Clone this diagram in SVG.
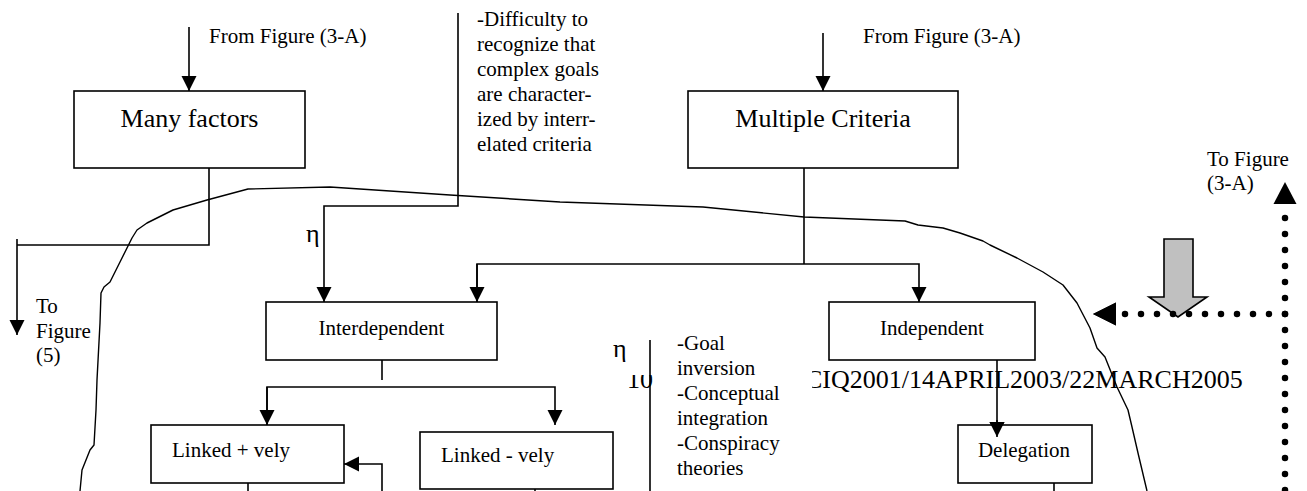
<svg xmlns="http://www.w3.org/2000/svg" width="1307" height="491" viewBox="0 0 1307 491">
<style>
text{font-family:"Liberation Serif","Times New Roman",serif;fill:#000}
.s21{font-size:21px}
.s26{font-size:26px}
.box{fill:#fff;stroke:#000;stroke-width:1.6}
.ln{fill:none;stroke:#000;stroke-width:1.6}
.dot{fill:none;stroke:#000;stroke-width:6.5;stroke-linecap:round;stroke-dasharray:0 16}
.curve{fill:none;stroke:#000;stroke-width:1.4;stroke-linejoin:round}
</style>
<defs>
<marker id="ah" markerUnits="userSpaceOnUse" markerWidth="16" markerHeight="16" refX="15" refY="7.5" orient="auto">
<path d="M0,0 L15,7.5 L0,15 z" fill="#000"/>
</marker>
<marker id="ahb" markerUnits="userSpaceOnUse" markerWidth="24" markerHeight="24" refX="23" refY="11.5" orient="auto">
<path d="M0,0 L23,11.5 L0,23 z" fill="#000"/>
</marker>
<clipPath id="c10"><rect x="600" y="375" width="80" height="40"/></clipPath>
<clipPath id="cciq"><rect x="812" y="360" width="460" height="40"/></clipPath>
</defs>
<rect width="1307" height="491" fill="#fff"/>

<g id="footer">
<text class="s26" x="627" y="388" clip-path="url(#c10)">10</text>
<text class="s26" x="805" y="388" clip-path="url(#cciq)">CIQ2001/14APRIL2003/22MARCH2005</text>
</g>

<g id="boundary">
<path class="curve" d="M80,491 L82,470 L90,450 L94,445 L96,410 L97,380 L100,323 L101,293 L104,287 L110,282 L120,262 L132,238 L137,230 L147,223 L157,218 L173,210 L207,200 L248,189 L330,187 L450,195 L560,202 L703,207 L804,217 L905,221 L918,225 L943,228 L960,233 L983,241 L990,245 L1017,258 L1043,272 L1063,285 L1077,303 L1090,328 L1097,348 L1105,357 L1117,387 L1128,410 L1132,427 L1138,453 L1147,491"/>
</g>

<g id="gray-arrow">
<path d="M1164,239 L1193,239 L1193,297 L1207,297 L1178,317 L1149,297 L1164,297 z" fill="#c0c0c0" stroke="#000" stroke-width="1.6"/>
</g>

<g id="connectors">
<line class="ln" x1="189" y1="27" x2="189" y2="91" marker-end="url(#ah)"/>
<line class="ln" x1="823" y1="33" x2="823" y2="91" marker-end="url(#ah)"/>
<polyline class="ln" points="209,168 209,245 17,245"/>
<line class="ln" x1="17" y1="239" x2="17" y2="335" marker-end="url(#ah)"/>
<polyline class="ln" points="458,13 458,206 324,206 324,302" marker-end="url(#ah)"/>
<line class="ln" x1="804" y1="168" x2="804" y2="264"/>
<polyline class="ln" points="477,302 477,264 919,264 919,302" marker-end="url(#ah)"/>
<line class="ln" x1="477" y1="264" x2="477" y2="302" marker-end="url(#ah)"/>
<line class="ln" x1="382" y1="360" x2="382" y2="380"/>
<polyline class="ln" points="267,425 267,387 555,387 555,425" marker-end="url(#ah)"/>
<line class="ln" x1="267" y1="387" x2="267" y2="425" marker-end="url(#ah)"/>
<polyline class="ln" points="382,491 382,464 344,464" marker-end="url(#ah)"/>
<line class="ln" x1="248" y1="483" x2="248" y2="491"/>
<line class="ln" x1="535" y1="489" x2="535" y2="491"/>
<line class="ln" x1="997" y1="360" x2="997" y2="437" marker-end="url(#ah)"/>
<line class="ln" x1="1054" y1="483" x2="1054" y2="491"/>
<line class="ln" x1="650" y1="340" x2="650" y2="491"/>
<line class="dot" x1="1285" y1="218" x2="1285" y2="491"/>
<line class="dot" x1="1285" y1="314" x2="1120" y2="314"/>
<line x1="1116" y1="314" x2="1093" y2="314" stroke="none" marker-end="url(#ahb)"/>
<path d="M1093,314 L1116,302.5 L1116,325.5 z" fill="#000"/>
<path d="M1285,182 L1273.5,204 L1296.5,204 z" fill="#000"/>
</g>

<g id="node-many-factors">
<rect class="box" x="74" y="91" width="231" height="77"/>
<text class="s26" x="189.5" y="127" text-anchor="middle">Many factors</text>
</g>
<g id="node-multiple-criteria">
<rect class="box" x="688" y="91" width="270" height="77"/>
<text class="s26" x="823" y="127" text-anchor="middle">Multiple Criteria</text>
</g>
<g id="node-interdependent">
<rect class="box" x="266" y="302" width="231" height="58"/>
<text class="s21" x="381.5" y="335" text-anchor="middle">Interdependent</text>
</g>
<g id="node-independent">
<rect class="box" x="829" y="302" width="206" height="58"/>
<text class="s21" x="932" y="335" text-anchor="middle">Independent</text>
</g>
<g id="node-linked-pos">
<rect class="box" x="151" y="425" width="193" height="58"/>
<text class="s21" x="172" y="457">Linked + vely</text>
</g>
<g id="node-linked-neg">
<rect class="box" x="420" y="432" width="193" height="57"/>
<text class="s21" x="441" y="462">Linked - vely</text>
</g>
<g id="node-delegation">
<rect class="box" x="958" y="425" width="134" height="58"/>
<text class="s21" x="1024" y="457" text-anchor="middle">Delegation</text>
</g>
<line class="ln" x1="997" y1="420" x2="997" y2="437" marker-end="url(#ah)"/>

<g id="labels">
<text class="s21" x="209" y="43">From Figure (3-A)</text>
<text class="s21" x="863" y="43">From Figure (3-A)</text>
<text class="s21" x="477"><tspan x="477" y="26">-Difficulty to</tspan><tspan x="477" y="51">recognize that</tspan><tspan x="477" y="76">complex goals</tspan><tspan x="477" y="101">are character-</tspan><tspan x="477" y="126">ized by interr-</tspan><tspan x="477" y="151">elated criteria</tspan></text>
<text class="s21"><tspan x="36" y="313">To</tspan><tspan x="36" y="338">Figure</tspan><tspan x="36" y="362">(5)</tspan></text>
<text class="s21"><tspan x="1207" y="166">To Figure</tspan><tspan x="1207" y="190">(3-A)</tspan></text>
<text class="s26" x="306" y="242">η</text>
<text class="s26" x="613" y="357">η</text>
<text class="s21"><tspan x="677" y="350">-Goal</tspan><tspan x="677" y="375">inversion</tspan><tspan x="677" y="400">-Conceptual</tspan><tspan x="677" y="425">integration</tspan><tspan x="677" y="450">-Conspiracy</tspan><tspan x="677" y="475">theories</tspan></text>
</g>
</svg>
